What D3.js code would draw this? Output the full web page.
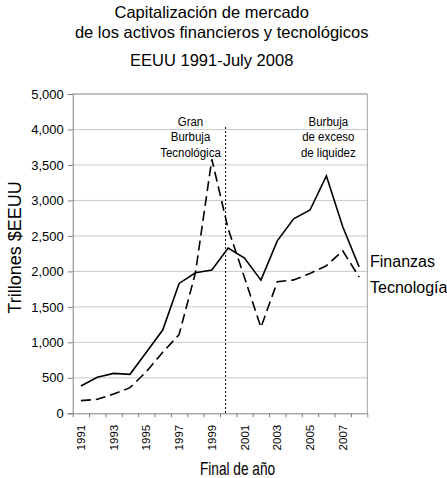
<!DOCTYPE html>
<html>
<head>
<meta charset="utf-8">
<script src="https://d3js.org/d3.v7.min.js"></script>
<style>
  body { margin: 0; background: #fff; }
  text { font-family: "Liberation Sans", Arial, sans-serif; fill: #000; }
</style>
</head>
<body>
<script>
// data
var years = [1991, 1992, 1993, 1994, 1995, 1996, 1997, 1998, 1999, 2000,
             2001, 2002, 2003, 2004, 2005, 2006, 2007, 2008];
var finanzas = [384, 507, 563, 549, 860, 1173, 1830, 1980, 2020, 2330,
                2188, 1877, 2430, 2740, 2865, 3345, 2630, 2064];
var tecnologia = [178, 197, 272, 361, 586, 860, 1110, 1980, 3580, 2600,
                  1910, 1210, 1853, 1880, 1971, 2080, 2290, 1920];
var xTickYears = [1991, 1993, 1995, 1997, 1999, 2001, 2003, 2005, 2007];
var yTickValues = [0, 500, 1000, 1500, 2000, 2500, 3000, 3500, 4000, 4500];
var yTickLabels = ["0", "500", "1,000", "1,500", "2,000", "2,500", "3,000", "3,500", "4,000", "5,000"];
var titleLines = ["Capitalización de mercado", "de los activos financieros y tecnológicos", "EEUU 1991-July 2008"];
var seriesNames = ["Finanzas", "Tecnología"];
var splitYear = 1999.84;
var bubble1 = ["Gran", "Burbuja", "Tecnológica"];
var bubble2 = ["Burbuja", "de exceso", "de liquidez"];

var width = 447, height = 478;
var plotLeft = 72.7, plotRight = 367.3, plotTop = 94, plotBottom = 413.3;

var svg = d3.select("body").append("svg")
  .attr("width", width)
  .attr("height", height);

var x = d3.scaleLinear().domain([years[0] - 0.5, years[years.length - 1] + 0.5]).range([plotLeft, plotRight]);
var y = d3.scaleLinear().domain([0, 4500]).range([plotBottom, plotTop]);

// gridlines
svg.append("g")
  .selectAll("line")
  .data(yTickValues.slice(1, -1))
  .join("line")
  .attr("x1", plotLeft).attr("x2", plotRight)
  .attr("y1", d => y(d)).attr("y2", d => y(d))
  .attr("stroke", "#c8c8c8").attr("stroke-width", 1);

// frame top and right
svg.append("line")
  .attr("x1", plotLeft).attr("x2", plotRight).attr("y1", y(4500)).attr("y2", y(4500))
  .attr("stroke", "#808080");
svg.append("line")
  .attr("x1", plotRight).attr("x2", plotRight).attr("y1", y(4500)).attr("y2", y(0))
  .attr("stroke", "#a0a0a0");

// y axis
var yAxis = d3.axisLeft(y)
  .tickValues(yTickValues)
  .tickSize(5)
  .tickPadding(4)
  .tickFormat((d, i) => yTickLabels[i]);
var gy = svg.append("g").attr("transform", "translate(" + plotLeft + ",0)").call(yAxis);
gy.select(".domain").attr("stroke", "#808080");
gy.selectAll(".tick line").attr("stroke", "#808080");
gy.selectAll(".tick text").attr("font-size", "13px").attr("font-family", "Liberation Sans, Arial, sans-serif");

// x axis (ticks between years)
var boundaries = years.map(d => d - 0.5).concat([years[years.length - 1] + 0.5]);
var xAxis = d3.axisBottom(x)
  .tickValues(boundaries)
  .tickSize(4)
  .tickSizeOuter(0)
  .tickFormat("");
var gx = svg.append("g").attr("transform", "translate(0," + plotBottom + ")").call(xAxis);
gx.select(".domain").attr("stroke", "#808080");
gx.selectAll(".tick line").attr("stroke", "#808080");

svg.append("g")
  .selectAll("text")
  .data(xTickYears)
  .join("text")
  .attr("transform", d => "translate(" + x(d) + "," + (plotBottom + 11.5) + ") rotate(-90)")
  .attr("text-anchor", "end")
  .attr("dy", "0.35em")
  .attr("font-size", "11.5px")
  .text(d => d);

// split line
svg.append("line")
  .attr("x1", x(splitYear)).attr("x2", x(splitYear))
  .attr("y1", 127).attr("y2", plotBottom)
  .attr("stroke", "#000").attr("stroke-width", 1)
  .attr("stroke-dasharray", "2,2");

// series
var line = d3.line().x((d, i) => x(years[i])).y(d => y(d));
svg.append("path")
  .datum(tecnologia)
  .attr("d", line)
  .attr("fill", "none")
  .attr("stroke", "#000")
  .attr("stroke-width", 1.6)
  .attr("stroke-dasharray", "10,5");
svg.append("path")
  .datum(finanzas)
  .attr("d", line)
  .attr("fill", "none")
  .attr("stroke", "#000")
  .attr("stroke-width", 1.6);

// legend labels
svg.append("text").attr("x", 370).attr("y", 267).attr("font-size", "16px").text(seriesNames[0]);
svg.append("text").attr("x", 370).attr("y", 293).attr("font-size", "16px").text(seriesNames[1]);

// annotations (condensed face, squeezed)
function annot(lines, cx) {
  svg.append("g").selectAll("text")
    .data(lines)
    .join("text")
    .attr("transform", (d, i) => "translate(" + cx + "," + (126 + i * 15.4) + ") scale(0.85,1)")
    .attr("text-anchor", "middle")
    .attr("font-size", "13.5px")
    .text(d => d);
}
annot(bubble1, 190.5);
annot(bubble2, 328.3);

// titles
svg.append("text").attr("x", 211.7).attr("y", 18).attr("text-anchor", "middle").attr("font-size", "16.5px").text(titleLines[0]);
svg.append("text").attr("x", 221.7).attr("y", 38).attr("text-anchor", "middle").attr("font-size", "16.5px").text(titleLines[1]);
svg.append("text").attr("x", 211.7).attr("y", 66).attr("text-anchor", "middle").attr("font-size", "16.5px").text(titleLines[2]);

// axis titles
svg.append("text")
  .attr("transform", "translate(237.5,475) scale(0.76,1)")
  .attr("text-anchor", "middle")
  .attr("font-size", "18px")
  .text("Final de año");
svg.append("text")
  .attr("transform", "translate(21,247.5) rotate(-90)")
  .attr("text-anchor", "middle")
  .attr("font-size", "18px")
  .text("Trillones $EEUU");
</script>
</body>
</html>
